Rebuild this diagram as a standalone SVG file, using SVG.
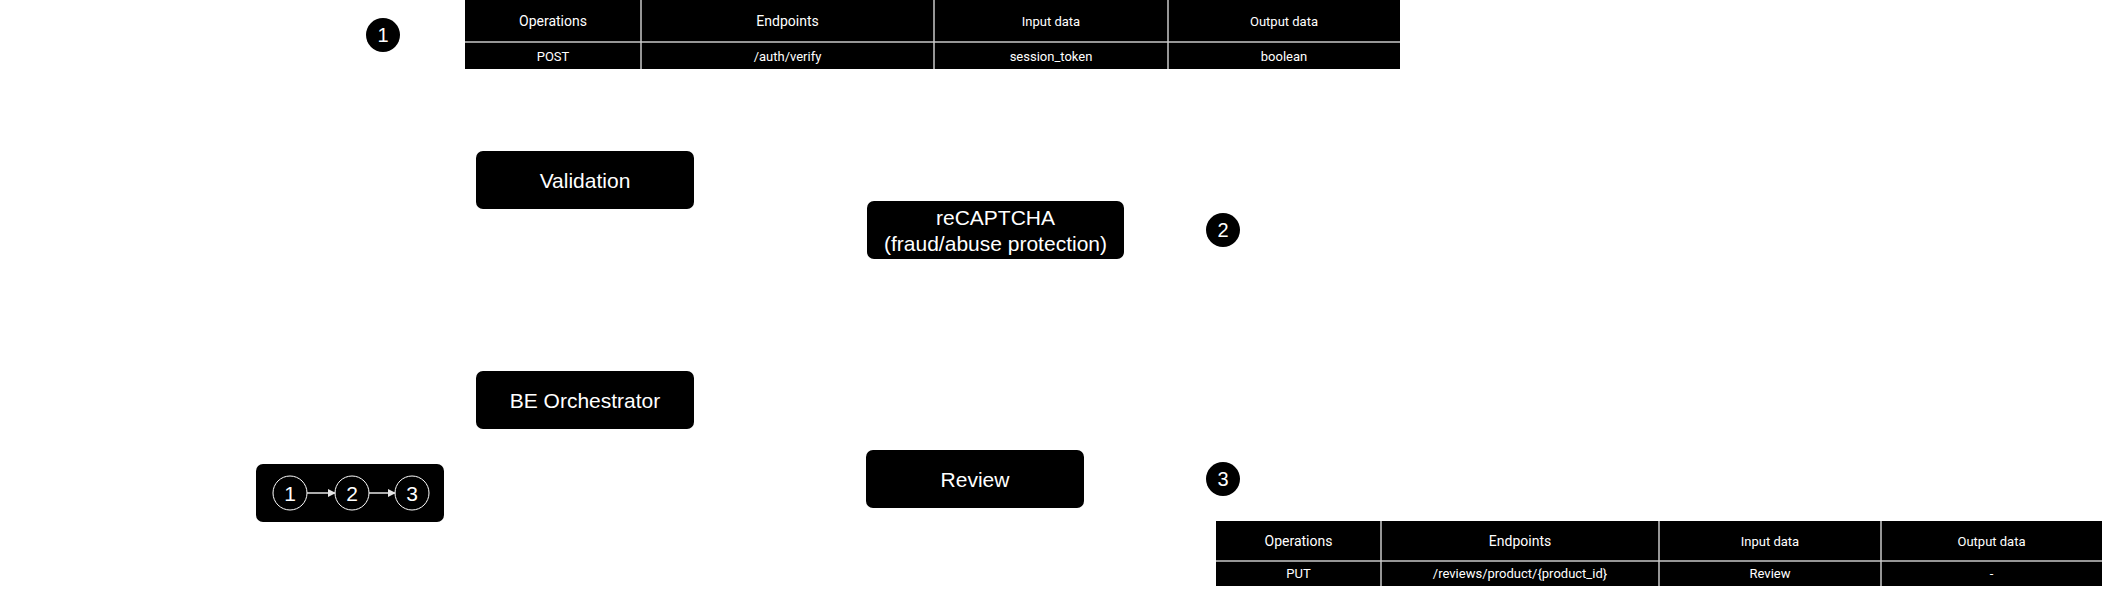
<svg xmlns="http://www.w3.org/2000/svg" width="2102" height="589" viewBox="0 0 2102 589">
<style>
.bg{fill:#fff}
.node rect{fill:#000}
.nt{font-family:"Liberation Sans",Arial,sans-serif;font-size:21px;fill:#fff;text-anchor:middle;dominant-baseline:central}
.badge circle{fill:#000}
.bt{font-family:"Liberation Sans",Arial,sans-serif;font-size:20px;fill:#fff;text-anchor:middle;dominant-baseline:central}
.tbl rect{fill:#000}
.tbl line{stroke:#c8c8c8;stroke-width:1.5}
.th{font-family:Roboto,"Liberation Sans",sans-serif;font-size:14px;fill:#fff;text-anchor:middle;dominant-baseline:central}
.th2{font-family:Roboto,"Liberation Sans",sans-serif;font-size:13px;fill:#fff;text-anchor:middle;dominant-baseline:central}
.td{font-family:Roboto,"Liberation Sans",sans-serif;font-size:13px;fill:#fff;text-anchor:middle;dominant-baseline:central}
.lc{fill:none;stroke:#fff;stroke-width:1}
.lt{font-family:"Liberation Sans",Arial,sans-serif;font-size:21px;fill:#fff;text-anchor:middle;dominant-baseline:central}
.arr{stroke:#e6e6e6;stroke-width:1.5;fill:none;marker-end:url(#ah)}
</style>
<defs>
<marker id="ah" viewBox="0 0 10 10" refX="9" refY="5" markerWidth="8" markerHeight="8" orient="auto" markerUnits="userSpaceOnUse">
<path d="M0,0 L10,5 L0,10 z" fill="#e6e6e6"/>
</marker>
</defs>
<rect class="bg" x="0" y="0" width="2102" height="589"/>

<g id="badge-1" class="badge"><circle cx="383" cy="35" r="17"/><text class="bt" x="383" y="35">1</text></g>
<g id="badge-2" class="badge"><circle cx="1223" cy="230" r="17"/><text class="bt" x="1223" y="230">2</text></g>
<g id="badge-3" class="badge"><circle cx="1223" cy="479" r="17"/><text class="bt" x="1223" y="479">3</text></g>

<g id="table-1" class="tbl">
<rect x="465" y="0" width="935" height="69"/>
<line x1="465" y1="42" x2="1400" y2="42"/>
<line x1="641" y1="0" x2="641" y2="69"/>
<line x1="934" y1="0" x2="934" y2="69"/>
<line x1="1168" y1="0" x2="1168" y2="69"/>
<text class="th" x="553" y="21">Operations</text>
<text class="th" x="787.5" y="21">Endpoints</text>
<text class="th2" x="1051" y="21">Input data</text>
<text class="th2" x="1284" y="21">Output data</text>
<text class="td" x="553" y="56">POST</text>
<text class="td" x="787.5" y="56">/auth/verify</text>
<text class="td" x="1051" y="56">session_token</text>
<text class="td" x="1284" y="56">boolean</text>
</g>

<g id="table-2" class="tbl">
<rect x="1216" y="521" width="886" height="65"/>
<line x1="1216" y1="561" x2="2102" y2="561"/>
<line x1="1381" y1="521" x2="1381" y2="586"/>
<line x1="1659" y1="521" x2="1659" y2="586"/>
<line x1="1881" y1="521" x2="1881" y2="586"/>
<text class="th" x="1298.5" y="541">Operations</text>
<text class="th" x="1520" y="541">Endpoints</text>
<text class="th2" x="1770" y="541">Input data</text>
<text class="th2" x="1991.5" y="541">Output data</text>
<text class="td" x="1298.5" y="573.5">PUT</text>
<text class="td" x="1520" y="573.5">/reviews/product/{product_id}</text>
<text class="td" x="1770" y="573.5">Review</text>
<text class="td" x="1991.5" y="573.5">-</text>
</g>

<g id="node-validation" class="node">
<rect x="476" y="151" width="218" height="58" rx="7"/>
<text class="nt" x="585" y="180">Validation</text>
</g>
<g id="node-recaptcha" class="node">
<rect x="867" y="201" width="257" height="58" rx="7"/>
<text class="nt" x="995.5" y="217">reCAPTCHA</text>
<text class="nt" x="995.5" y="243">(fraud/abuse protection)</text>
</g>
<g id="node-orchestrator" class="node">
<rect x="476" y="371" width="218" height="58" rx="7"/>
<text class="nt" x="585" y="400">BE Orchestrator</text>
</g>
<g id="node-review" class="node">
<rect x="866" y="450" width="218" height="58" rx="7"/>
<text class="nt" x="975" y="479">Review</text>
</g>

<g id="legend" class="node">
<rect x="256" y="464" width="188" height="58" rx="7"/>
<circle class="lc" cx="290" cy="493" r="17"/>
<circle class="lc" cx="352" cy="493" r="17"/>
<circle class="lc" cx="412" cy="493" r="17"/>
<text class="lt" x="290" y="493">1</text>
<text class="lt" x="352" y="493">2</text>
<text class="lt" x="412" y="493">3</text>
</g>

<g id="connectors">
<line class="arr" x1="307" y1="493" x2="335" y2="493"/>
<line class="arr" x1="369" y1="493" x2="395" y2="493"/>
</g>
</svg>
